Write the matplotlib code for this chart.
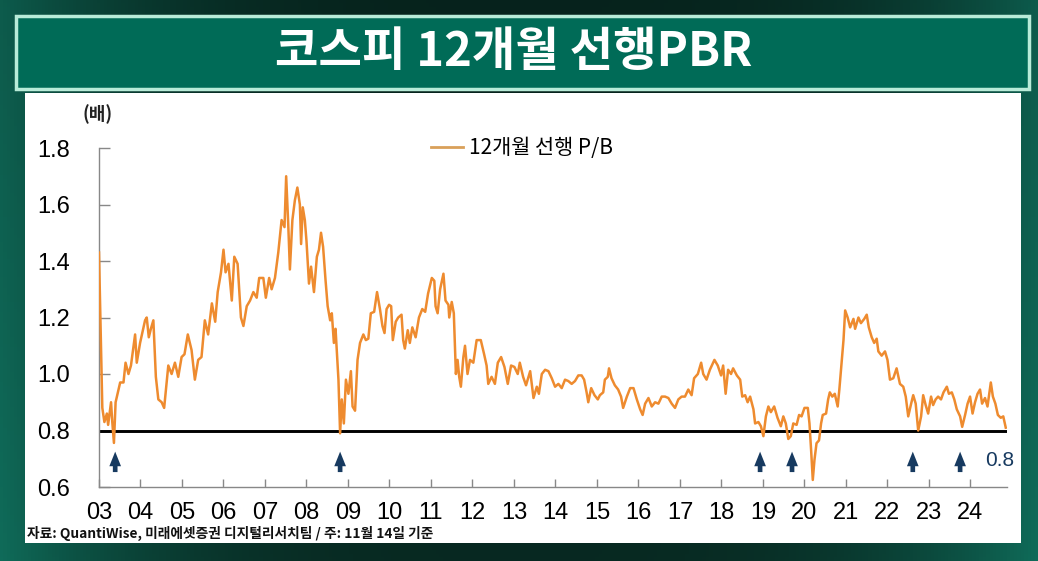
import numpy as np
import matplotlib
matplotlib.use("Agg")
import matplotlib.pyplot as plt
from matplotlib.patches import Rectangle

# ---------------- data ----------------
years = [
    2003.00, 2003.08, 2003.13, 2003.19, 2003.22, 2003.29, 2003.32, 2003.36, 2003.40, 2003.51,
    2003.59, 2003.64, 2003.71, 2003.77, 2003.87, 2003.91, 2003.99, 2004.11, 2004.15, 2004.20,
    2004.25, 2004.31, 2004.37, 2004.43, 2004.51, 2004.57, 2004.67, 2004.75, 2004.83, 2004.91,
    2004.99, 2005.06, 2005.14, 2005.23, 2005.31, 2005.39, 2005.47, 2005.55, 2005.63, 2005.72,
    2005.80, 2005.86, 2005.94, 2006.00, 2006.05, 2006.12, 2006.20, 2006.26, 2006.34, 2006.42,
    2006.48, 2006.56, 2006.64, 2006.72, 2006.80, 2006.86, 2006.96, 2007.02, 2007.10, 2007.16,
    2007.24, 2007.32, 2007.40, 2007.47, 2007.51, 2007.56, 2007.60, 2007.66, 2007.72, 2007.78,
    2007.84, 2007.87, 2007.91, 2007.96, 2008.00, 2008.06, 2008.11, 2008.18, 2008.25, 2008.30,
    2008.35, 2008.40, 2008.46, 2008.51, 2008.57, 2008.61, 2008.66, 2008.70, 2008.77, 2008.81,
    2008.85, 2008.90, 2008.95, 2009.01, 2009.07, 2009.11, 2009.17, 2009.23, 2009.29, 2009.37,
    2009.43, 2009.49, 2009.55, 2009.63, 2009.70, 2009.77, 2009.83, 2009.88, 2009.93, 2009.99,
    2010.04, 2010.08, 2010.15, 2010.21, 2010.29, 2010.33, 2010.37, 2010.44, 2010.49, 2010.55,
    2010.63, 2010.71, 2010.79, 2010.86, 2010.93, 2011.02, 2011.08, 2011.11, 2011.16, 2011.22,
    2011.30, 2011.35, 2011.42, 2011.44, 2011.50, 2011.55, 2011.60, 2011.64, 2011.68, 2011.72,
    2011.78, 2011.82, 2011.88, 2011.94, 2012.02, 2012.10, 2012.20, 2012.28, 2012.34, 2012.38,
    2012.46, 2012.54, 2012.61, 2012.69, 2012.77, 2012.85, 2012.93, 2013.01, 2013.09, 2013.14,
    2013.22, 2013.29, 2013.39, 2013.47, 2013.55, 2013.60, 2013.67, 2013.75, 2013.83, 2013.91,
    2013.99, 2014.07, 2014.15, 2014.23, 2014.31, 2014.39, 2014.47, 2014.55, 2014.63, 2014.69,
    2014.75, 2014.79, 2014.86, 2014.94, 2015.02, 2015.07, 2015.15, 2015.19, 2015.26, 2015.29,
    2015.35, 2015.43, 2015.51, 2015.58, 2015.63, 2015.72, 2015.80, 2015.88, 2015.96, 2016.04,
    2016.10, 2016.16, 2016.24, 2016.32, 2016.40, 2016.48, 2016.56, 2016.64, 2016.72, 2016.80,
    2016.88, 2016.96, 2017.04, 2017.12, 2017.20, 2017.28, 2017.34, 2017.43, 2017.51, 2017.56,
    2017.64, 2017.72, 2017.83, 2017.91, 2017.99, 2018.04, 2018.10, 2018.16, 2018.23, 2018.28,
    2018.37, 2018.45, 2018.50, 2018.57, 2018.63, 2018.69, 2018.77, 2018.81, 2018.89, 2018.95,
    2019.01, 2019.07, 2019.13, 2019.19, 2019.27, 2019.35, 2019.43, 2019.49, 2019.55, 2019.61,
    2019.67, 2019.73, 2019.81, 2019.87, 2019.93, 2020.00, 2020.08, 2020.12, 2020.16, 2020.20,
    2020.24, 2020.29, 2020.35, 2020.40, 2020.44, 2020.52, 2020.57, 2020.61, 2020.67, 2020.73,
    2020.80, 2020.84, 2020.90, 2020.94, 2020.98, 2021.04, 2021.10, 2021.18, 2021.22, 2021.30,
    2021.36, 2021.44, 2021.50, 2021.55, 2021.62, 2021.68, 2021.74, 2021.78, 2021.86, 2021.94,
    2022.00, 2022.06, 2022.14, 2022.22, 2022.30, 2022.38, 2022.44, 2022.50, 2022.57, 2022.62,
    2022.68, 2022.74, 2022.81, 2022.86, 2022.92, 2022.98, 2023.05, 2023.10, 2023.16, 2023.22,
    2023.29, 2023.35, 2023.43, 2023.48, 2023.55, 2023.61, 2023.67, 2023.75, 2023.80, 2023.87,
    2023.93, 2023.99, 2024.05, 2024.11, 2024.17, 2024.23, 2024.28, 2024.35, 2024.41, 2024.49,
    2024.54, 2024.60, 2024.66, 2024.73, 2024.79, 2024.85,
]
pbr = [
    1.43, 0.88, 0.83, 0.86, 0.82, 0.90, 0.83, 0.756, 0.90, 0.97,
    0.97, 1.04, 1.00, 1.03, 1.14, 1.04, 1.11, 1.19, 1.20, 1.13,
    1.16, 1.19, 0.99, 0.91, 0.90, 0.88, 1.03, 1.00, 1.04, 0.99,
    1.06, 1.07, 1.14, 1.085, 0.98, 1.05, 1.06, 1.19, 1.14, 1.25,
    1.185, 1.29, 1.36, 1.44, 1.36, 1.39, 1.26, 1.415, 1.39, 1.20,
    1.17, 1.24, 1.26, 1.29, 1.27, 1.34, 1.34, 1.27, 1.34, 1.30,
    1.34, 1.43, 1.545, 1.52, 1.70, 1.53, 1.37, 1.545, 1.615, 1.66,
    1.60, 1.46, 1.59, 1.545, 1.47, 1.32, 1.38, 1.29, 1.415, 1.44,
    1.50, 1.45, 1.33, 1.24, 1.19, 1.215, 1.11, 1.16, 0.98, 0.79,
    0.91, 0.825, 0.98, 0.93, 1.01, 0.885, 0.87, 1.05, 1.11, 1.14,
    1.12, 1.125, 1.215, 1.22, 1.29, 1.23, 1.17, 1.145, 1.23, 1.245,
    1.24, 1.12, 1.185, 1.20, 1.21, 1.12, 1.09, 1.155, 1.11, 1.165,
    1.13, 1.20, 1.23, 1.22, 1.285, 1.34, 1.33, 1.24, 1.215, 1.30,
    1.355, 1.26, 1.245, 1.20, 1.255, 1.215, 1.00, 1.05, 0.99, 0.955,
    1.06, 1.10, 1.00, 1.05, 1.04, 1.12, 1.12, 1.07, 1.03, 0.965,
    0.99, 0.965, 1.04, 1.06, 1.025, 0.965, 1.03, 1.025, 1.00, 1.04,
    0.99, 0.96, 1.01, 0.915, 0.955, 0.93, 1.00, 1.015, 1.01, 0.985,
    0.955, 0.965, 0.95, 0.98, 0.975, 0.965, 0.975, 0.995, 0.995, 0.98,
    0.935, 0.90, 0.95, 0.925, 0.91, 0.925, 0.935, 0.98, 0.99, 1.02,
    0.985, 0.96, 0.945, 0.92, 0.88, 0.92, 0.95, 0.95, 0.91, 0.875,
    0.855, 0.895, 0.915, 0.885, 0.90, 0.895, 0.92, 0.92, 0.915, 0.895,
    0.88, 0.91, 0.92, 0.92, 0.945, 0.925, 0.985, 1.00, 1.04, 1.00,
    0.98, 1.015, 1.05, 1.03, 0.995, 1.03, 0.93, 1.015, 1.00, 1.02,
    0.995, 0.98, 0.92, 0.925, 0.90, 0.92, 0.875, 0.825, 0.83, 0.815,
    0.78, 0.85, 0.885, 0.865, 0.885, 0.845, 0.815, 0.85, 0.825, 0.77,
    0.78, 0.825, 0.82, 0.855, 0.85, 0.88, 0.88, 0.825, 0.73, 0.625,
    0.695, 0.755, 0.765, 0.825, 0.855, 0.86, 0.91, 0.935, 0.92, 0.93,
    0.885, 0.945, 1.05, 1.12, 1.225, 1.20, 1.165, 1.195, 1.16, 1.20,
    1.18, 1.195, 1.21, 1.165, 1.13, 1.11, 1.125, 1.08, 1.065, 1.08,
    1.05, 0.98, 0.985, 1.02, 0.965, 0.955, 0.92, 0.85, 0.895, 0.925,
    0.895, 0.80, 0.85, 0.925, 0.89, 0.86, 0.92, 0.89, 0.91, 0.92,
    0.91, 0.935, 0.955, 0.93, 0.935, 0.91, 0.875, 0.85, 0.813, 0.855,
    0.895, 0.92, 0.86, 0.90, 0.93, 0.945, 0.895, 0.915, 0.885, 0.97,
    0.92, 0.895, 0.855, 0.845, 0.85, 0.81,
]
year_ticks = list(range(2003, 2025))
year_labels = [f"{y % 100:02d}" for y in year_ticks]
y_ticks = [0.6, 0.8, 1.0, 1.2, 1.4, 1.6, 1.8]
y_labels = ["0.6", "0.8", "1.0", "1.2", "1.4", "1.6", "1.8"]
arrow_years = [2003.39, 2008.81, 2018.93, 2019.70, 2022.61, 2023.75]
ref_level = 0.8

title = "코스피 12개월 선행PBR"
series_name = "12개월 선행 P/B"
unit_label = "(배)"
source_text = "자료: QuantiWise, 미래에셋증권 디지털리서치팀 / 주: 11월 14일 기준"

# ---------------- styling ----------------
KR = ["Noto Sans CJK KR", "DejaVu Sans"]
NUM = ["Liberation Sans", "DejaVu Sans"]
ORANGE = "#EE8B2F"
NAVY = "#173A60"

W, H = 1038, 561
fig = plt.figure(figsize=(W / 100, H / 100), dpi=100)

# background axes in pixel coordinates
bg = fig.add_axes([0, 0, 1, 1])
bg.set_xlim(0, W)
bg.set_ylim(H, 0)
bg.axis("off")

# dark green gradient background
gx = np.linspace(0, 1, 300)
gy = np.linspace(0, 1, 160)
GX, GY = np.meshgrid(gx, gy)
edge = np.clip(np.abs(GX - 0.5) * 2, 0, 1) ** 3
dark = np.array([0.03, 0.16, 0.13])
teal = np.array([0.06, 0.42, 0.35])
img = dark[None, None, :] * (1 - edge[..., None]) + teal[None, None, :] * edge[..., None]
img = img * (0.85 + 0.15 * GY[..., None])
bg.imshow(img, extent=[0, W, H, 0], aspect="auto", zorder=0)

# white chart panel
bg.add_patch(Rectangle((25, 93), 996, 450, facecolor="white", edgecolor="none", zorder=1))
# title banner
bg.add_patch(Rectangle((16, 16), 1013, 73, facecolor="#006B57", edgecolor="#B8EBD8",
                       linewidth=2.5, zorder=2))
bg.text(514, 52, title, color="white", fontsize=34, fontweight="bold", family=KR,
        ha="center", va="center", zorder=3)
bg.text(98, 114, unit_label, color="#222222", fontsize=13, fontweight="bold", family=KR,
        ha="center", va="center", zorder=3)
bg.text(27, 533, source_text, color="#111111", fontsize=9.9, family=KR, fontweight="bold",
        ha="left", va="center", zorder=3)

# ---------------- main chart ----------------
ax = fig.add_axes([99 / W, 74 / H, 908 / W, 339 / H])
ax.set_facecolor("none")
ax.plot(years, pbr, color=ORANGE, lw=1.8, label=series_name, zorder=3, solid_joinstyle="round")
ax.axhline(ref_level, color="black", lw=2.1, zorder=2)

ax.set_xlim(2003.0, 2024.88)
ax.set_ylim(0.6, 1.8)
ax.set_xticks(year_ticks)
ax.set_xticklabels(year_labels, family=NUM, fontsize=17)
ax.set_yticks(y_ticks)
ax.set_yticklabels(y_labels, family=NUM, fontsize=17)
ax.tick_params(axis="x", direction="in", length=6, width=1, color="#888888", pad=11)
ax.tick_params(axis="y", direction="in", length=8, width=1, color="#888888", pad=21)
for s in ["top", "right"]:
    ax.spines[s].set_visible(False)
for s in ["left", "bottom"]:
    ax.spines[s].set_color("#888888")
    ax.spines[s].set_linewidth(1.0)

for ay in arrow_years:
    ax.annotate("", xy=(ay, 0.735), xytext=(ay, 0.643),
                arrowprops=dict(arrowstyle="simple,head_length=0.75,head_width=0.6,tail_width=0.24",
                                color=NAVY, lw=0, mutation_scale=14),
                annotation_clip=False, zorder=4)
ax.text(2024.35, 0.695, "0.8", color=NAVY, fontsize=15, family=NUM, ha="left", va="center",
        clip_on=False)

leg = ax.legend(loc="center left", bbox_to_anchor=(0.366, 1.0), frameon=False,
                prop={"family": KR, "size": 15}, handlelength=1.5, handletextpad=0.3,
                borderpad=0, borderaxespad=0)
for h in leg.get_lines():
    h.set_color("#D9A05A")
    h.set_linewidth(2)

fig.savefig("out.png", dpi=100)
